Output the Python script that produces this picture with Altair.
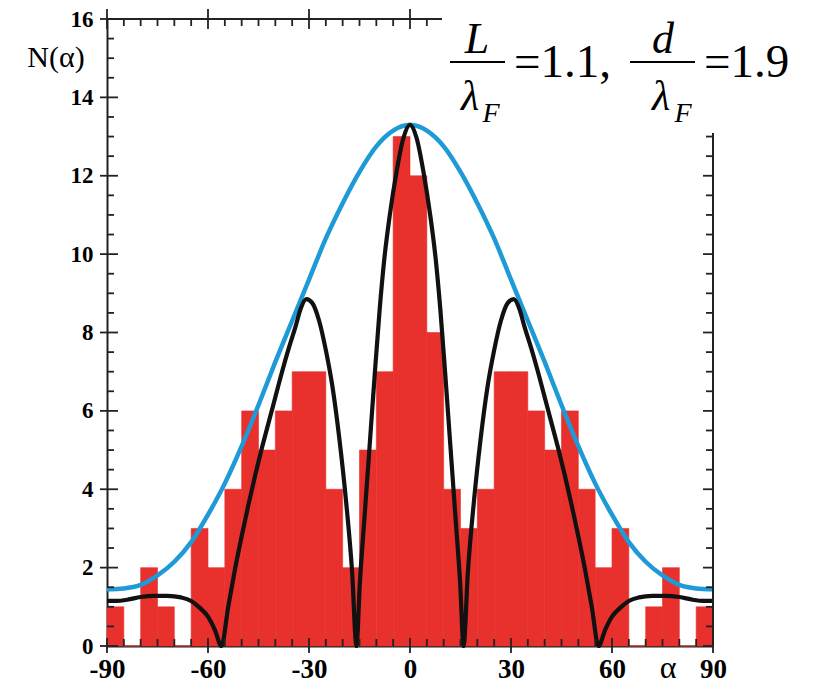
import altair as alt
import pandas as pd

# ---------------- data ----------------
bin_left = [-90, -85, -80, -75, -70, -65, -60, -55, -50, -45, -40, -35, -30, -25, -20, -15, -10, -5,
            0, 5, 10, 15, 20, 25, 30, 35, 40, 45, 50, 55, 60, 65, 70, 75, 80, 85]
counts = [1, 0, 2, 1, 0, 3, 2, 4, 6, 5, 6, 7, 7, 4, 2, 5, 7, 13,
          12, 8, 4, 3, 4, 7, 7, 6, 5, 6, 4, 2, 3, 0, 1, 2, 0, 1]
bin_width = 5

blue_alpha = [-90, -85, -80, -75, -70, -65, -60, -55, -50, -45, -40, -35, -30, -25, -20, -15, -10, -5,
              0, 5, 10, 15, 20, 25, 30, 35, 40, 45, 50, 55, 60, 65, 70, 75, 80, 85, 90]
blue_n = [1.45, 1.47, 1.56, 1.8, 2.15, 2.65, 3.35, 4.15, 5.1, 6.15, 7.25, 8.3, 9.35, 10.4, 11.3, 12.1, 12.75, 13.15,
          13.3, 13.15, 12.75, 12.1, 11.3, 10.4, 9.35, 8.3, 7.25, 6.15, 5.1, 4.15, 3.35, 2.65, 2.15, 1.8, 1.56, 1.47, 1.45]

black_alpha = [-90, -87, -84, -80, -76, -72, -68, -65, -62.5, -60, -58, -56,
               -54, -52, -50, -48, -46, -44, -42, -40, -38, -36, -34, -32.5, -30.8,
               -29, -27, -25, -23, -21, -19, -17.2, -15.9,
               -14.9, -13.5, -12, -10.5, -9, -7.6, -6, -4, -2, 0,
               2, 4, 6, 7.6, 9, 10.5, 12, 13.5, 14.9,
               15.9, 17.2, 19, 21, 23, 25, 27, 29,
               30.8, 32.5, 34, 36, 38, 40, 42, 44, 46, 48, 50, 52, 54,
               56, 58, 60, 62.5, 65, 68, 72, 76, 80, 84, 87, 90]
black_n = [1.15, 1.15, 1.18, 1.25, 1.28, 1.28, 1.24, 1.15, 0.98, 0.75, 0.42, 0.0,
           1.0, 1.95, 2.8, 3.6, 4.35, 5.05, 5.7, 6.35, 7.0, 7.6, 8.15, 8.6, 8.85,
           8.75, 8.3, 7.55, 6.6, 5.3, 3.7, 1.9, 0.0,
           1.6, 3.3, 5.1, 6.9, 8.6, 9.9, 11.0, 12.1, 12.95, 13.3,
           12.95, 12.1, 11.0, 9.9, 8.6, 6.9, 5.1, 3.3, 1.6,
           0.0, 1.9, 3.7, 5.3, 6.6, 7.55, 8.3, 8.75,
           8.85, 8.6, 8.15, 7.6, 7.0, 6.35, 5.7, 5.05, 4.35, 3.6, 2.8, 1.95, 1.0,
           0.0, 0.42, 0.75, 0.98, 1.15, 1.24, 1.28, 1.28, 1.25, 1.18, 1.15, 1.15]

x_major = [-90, -60, -30, 0, 30, 60, 90]
x_minor = [v for v in range(-90, 91, 5) if v not in x_major]
y_major = [0, 2, 4, 6, 8, 10, 12, 14, 16]
y_minor = [v / 2 for v in range(0, 33) if (v / 2) not in y_major]

# ---------------- layout ----------------
W, H = 606, 627
RED = "#E8302C"
BLUE = "#1E9AD6"
SERIF = "Liberation Serif, Times New Roman, DejaVu Serif, serif"

xs = alt.Scale(domain=[-90, 90], nice=False, zero=False)
ys = alt.Scale(domain=[0, 16], nice=False, zero=False)

bars_df = pd.DataFrame({"a0": bin_left, "a1": [b + bin_width for b in bin_left], "n": counts})
blue_df = pd.DataFrame({"alpha": blue_alpha, "n": blue_n})
black_df = pd.DataFrame({"alpha": black_alpha, "n": black_n})

x_axis = alt.Axis(values=x_major, labelExpr="'' + datum.value", ticks=False, grid=False, title=None,
                  domainColor="#222", domainWidth=2, labelFont=SERIF, labelFontSize=27,
                  labelFontWeight="bold", labelColor="black", labelPadding=10, labelFlush=False,
                  labelOverlap=False)
y_axis = alt.Axis(values=y_major, labelExpr="'' + datum.value", ticks=False, grid=False, title=None,
                  domainColor="#222", domainWidth=2, labelFont=SERIF, labelFontSize=23,
                  labelFontWeight="bold", labelColor="black", labelPadding=14, labelFlush=False,
                  labelOverlap=False)

bars = alt.Chart(bars_df).mark_rect(color=RED, stroke=RED, strokeWidth=0.6).encode(
    x=alt.X("a0:Q", scale=xs, axis=x_axis),
    x2="a1:Q",
    y=alt.Y("n:Q", scale=ys, axis=y_axis),
    y2=alt.datum(0),
)

blue = alt.Chart(blue_df).mark_line(color=BLUE, strokeWidth=4.5, interpolate="monotone").encode(
    x=alt.X("alpha:Q", scale=xs, axis=x_axis),
    y=alt.Y("n:Q", scale=ys, axis=y_axis),
    order="alpha:Q",
)

black = alt.Chart(black_df).mark_line(color="#111", strokeWidth=4.2, interpolate="monotone").encode(
    x=alt.X("alpha:Q", scale=xs, axis=x_axis),
    y=alt.Y("n:Q", scale=ys, axis=y_axis),
    order="alpha:Q",
)

def vticks(values, y0, y1):
    return alt.Chart(pd.DataFrame({"v": values})).mark_rule(color="#222", strokeWidth=1.8).encode(
        x=alt.X("v:Q", scale=xs, axis=x_axis), y=alt.value(y0), y2=alt.value(y1))

def hticks(values, x0, x1):
    return alt.Chart(pd.DataFrame({"v": values})).mark_rule(color="#222", strokeWidth=1.8).encode(
        y=alt.Y("v:Q", scale=ys, axis=y_axis), x=alt.value(x0), x2=alt.value(x1))

one = alt.Data(values=[{"k": 1}])

frame_top = alt.Chart(one).mark_rule(color="#222", strokeWidth=2).encode(
    x=alt.value(0), x2=alt.value(W), y=alt.value(0))
frame_right = alt.Chart(one).mark_rule(color="#222", strokeWidth=2).encode(
    x=alt.value(W), y=alt.value(0), y2=alt.value(H))

ticks = [
    vticks(x_major, H - 8, H + 7), vticks(x_minor, H - 7, H),
    vticks(x_major, -10, 10), vticks(x_minor, 0, 7),
    hticks(y_major, -7, 11), hticks(y_minor, 0, 7),
    hticks(y_major, W - 10, W), hticks(y_minor, W - 7, W),
]

white_box = alt.Chart(one).mark_rect(color="white").encode(
    x=alt.value(335), x2=alt.value(700), y=alt.value(-20), y2=alt.value(114))

def txt(s, x, y, size, style="normal", align="center"):
    return alt.Chart(one).mark_text(font=SERIF, fontSize=size, fontStyle=style, align=align,
                                    baseline="alphabetic", color="black").encode(
        x=alt.value(x), y=alt.value(y), text=alt.value(s))

def bar(x0, x1, y):
    return alt.Chart(one).mark_rule(color="black", strokeWidth=2.2).encode(
        x=alt.value(x0), x2=alt.value(x1), y=alt.value(y))

formula = [
    txt("L", 370, 34, 44, "italic"), bar(343, 398, 43),
    txt("λ", 363, 91, 42, "italic"), txt("F", 384, 103, 28, "italic"),
    txt("=1.1,", 407, 58, 47, align="left"),
    txt("d", 556, 34, 44, "italic"), bar(523, 588, 43),
    txt("λ", 554, 91, 42, "italic"), txt("F", 576, 103, 28, "italic"),
    txt("=1.9", 597, 58, 47, align="left"),
]

labels = [
    txt("N(α)", -51, 48, 30),
    txt("α", 561, 659, 32),
]

chart = alt.layer(
    bars, blue, black, frame_top, frame_right, *ticks, white_box, *formula, *labels
).properties(
    width=W, height=H,
    autosize=alt.AutoSizeParams(type="none"),
    padding={"left": 99, "top": 11, "right": 90, "bottom": 38},
).configure_view(stroke=None)

chart.save("out.html", embed_options={"renderer": "svg", "actions": False})
